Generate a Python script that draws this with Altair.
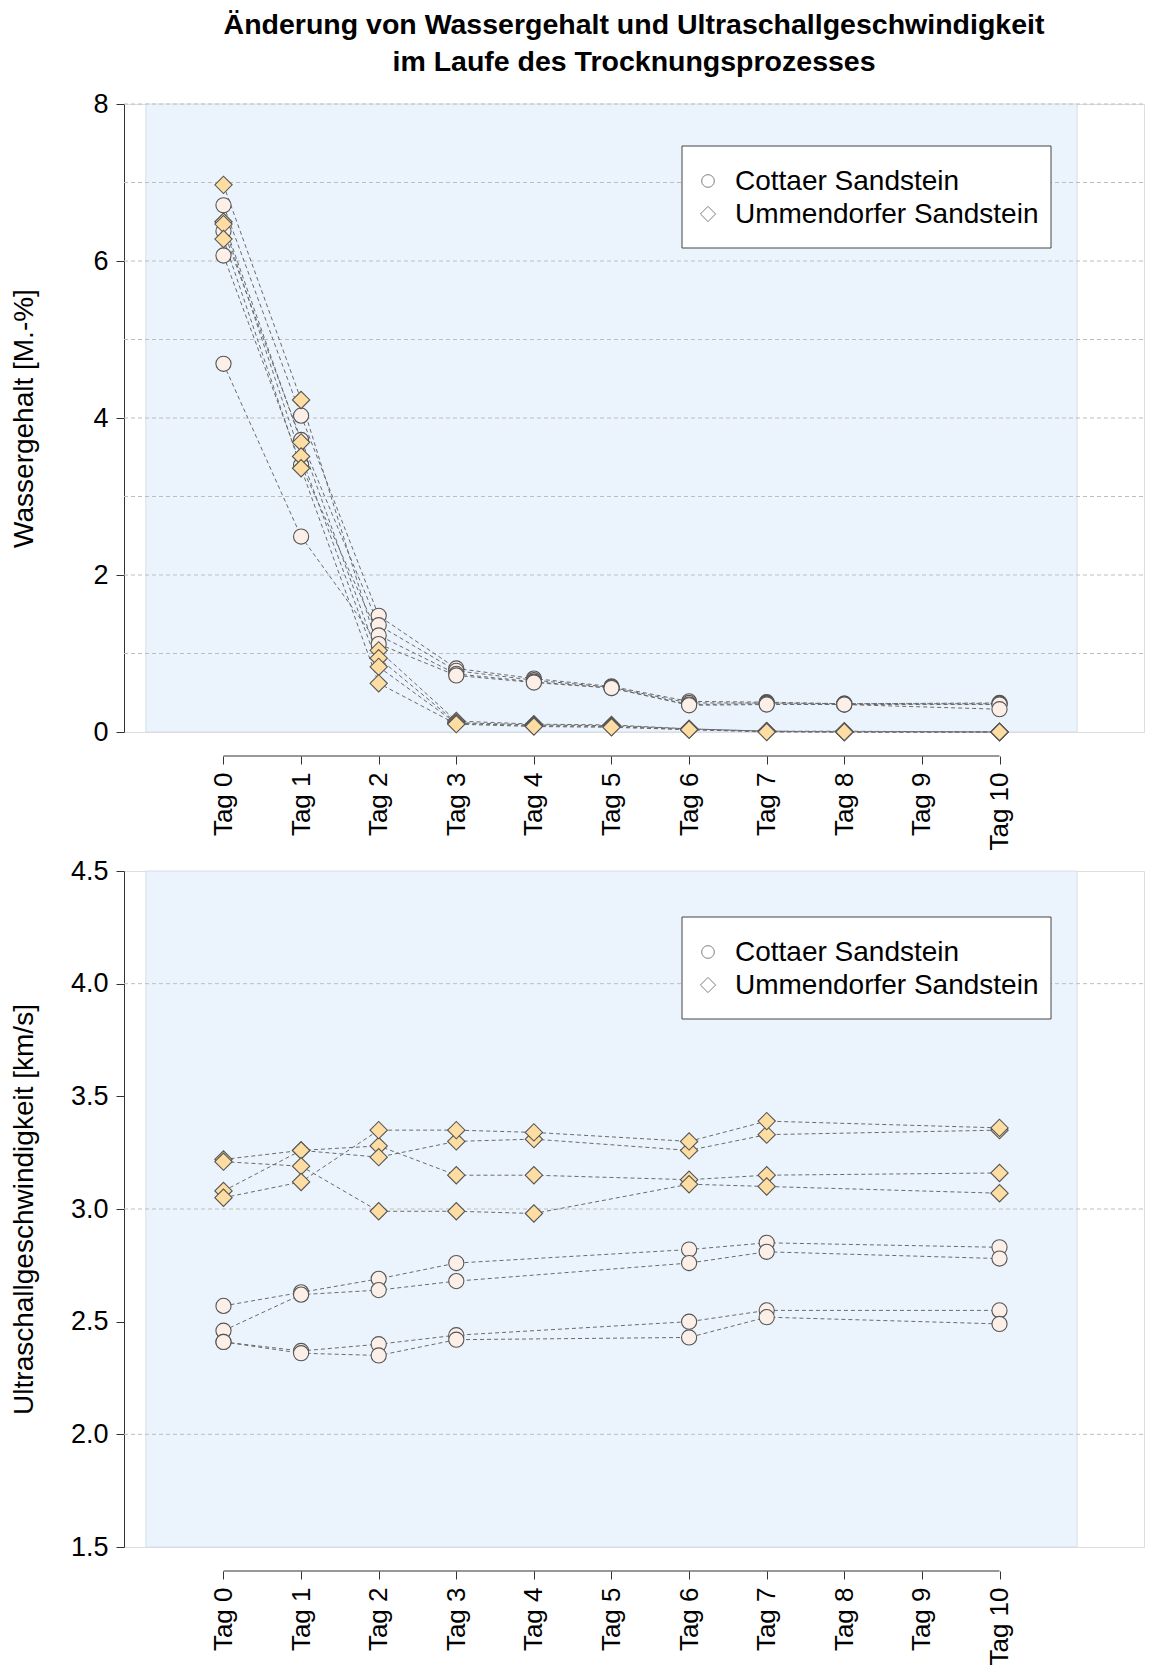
import altair as alt
import pandas as pd

# ---------------- data ----------------
stones = ["Cottaer Sandstein", "Ummendorfer Sandstein"]
stone_shapes = ["circle", "diamond"]

# Water content [M.-%]
wg_days = [0, 1, 2, 3, 4, 5, 6, 7, 8, 10]
wg_cottaer = [
    [6.71, 4.03, 1.48, 0.81, 0.68, 0.58, 0.39, 0.38, 0.36, 0.37],
    [6.38, 3.72, 1.36, 0.78, 0.66, 0.57, 0.37, 0.37, 0.36, 0.36],
    [6.07, 3.40, 1.23, 0.74, 0.64, 0.56, 0.35, 0.36, 0.35, 0.35],
    [4.69, 2.49, 1.12, 0.72, 0.63, 0.56, 0.34, 0.35, 0.35, 0.29],
]
wg_ummendorf = [
    [6.97, 4.23, 1.04, 0.14, 0.10, 0.09, 0.04, 0.01, 0.01, 0.00],
    [6.50, 3.69, 0.94, 0.12, 0.09, 0.08, 0.04, 0.01, 0.00, 0.00],
    [6.47, 3.51, 0.83, 0.11, 0.08, 0.07, 0.03, 0.01, 0.00, 0.00],
    [6.28, 3.36, 0.62, 0.10, 0.07, 0.06, 0.03, 0.00, 0.00, 0.00],
]

# Ultrasonic velocity [km/s]
us_days_cottaer = [0, 1, 2, 3, 6, 7, 10]
us_cottaer = [
    [2.57, 2.63, 2.69, 2.76, 2.82, 2.85, 2.83],
    [2.46, 2.62, 2.64, 2.68, 2.76, 2.81, 2.78],
    [2.41, 2.37, 2.40, 2.44, 2.50, 2.55, 2.55],
    [2.41, 2.36, 2.35, 2.42, 2.43, 2.52, 2.49],
]
us_days_ummendorf = [0, 1, 2, 3, 4, 6, 7, 10]
us_ummendorf = [
    [3.22, 3.26, 3.28, 3.15, 3.15, 3.13, 3.15, 3.16],
    [3.08, 3.26, 3.23, 3.30, 3.31, 3.26, 3.33, 3.35],
    [3.21, 3.19, 2.99, 2.99, 2.98, 3.11, 3.10, 3.07],
    [3.05, 3.12, 3.35, 3.35, 3.34, 3.30, 3.39, 3.36],
]

wg_grid = [1, 2, 3, 4, 5, 6, 7, 8]
us_grid = [2.0, 3.0, 4.0]
wg_ticks = [0, 2, 4, 6, 8]
us_ticks = [1.5, 2.0, 2.5, 3.0, 3.5, 4.0, 4.5]
tag_days = list(range(11))


def long_df(days_c, series_c, days_u, series_u):
    rows = []
    for i, s in enumerate(series_c):
        for d, v in zip(days_c, s):
            rows.append({"series": f"C{i}", "stone": stones[0], "day": d, "value": v})
    for i, s in enumerate(series_u):
        for d, v in zip(days_u, s):
            rows.append({"series": f"U{i}", "stone": stones[1], "day": d, "value": v})
    return pd.DataFrame(rows)


df_wg = long_df(wg_days, wg_cottaer, wg_days, wg_ummendorf)
df_us = long_df(us_days_cottaer, us_cottaer, us_days_ummendorf, us_ummendorf)

# ---------------- style ----------------
W = 1020
H_TOP = 628
H_BOT = 676
FONT = "Liberation Sans"
PANEL = "#ebf4fd"
GRID = "#bdbdbd"
AXC = "#333333"

xscale = alt.Scale(domain=[-1.282, 11.862], nice=False, zero=False)
xaxis = alt.Axis(values=tag_days, labelExpr="'Tag ' + datum.value", labelAngle=270,
                 labelFontSize=26, labelFont=FONT, labelColor="black", labelPadding=8,
                 labelFlush=False, labelOverlap=False, tickSize=8, tickColor=AXC,
                 domain=False, grid=False, offset=24, title=None)


def legend_layers(box_top):
    box_left, box_right = 558, 927
    layers = [
        alt.Chart(pd.DataFrame({"k": [0]})).mark_rect(
            fill="white", stroke="#444444", strokeWidth=1
        ).encode(x=alt.value(box_left), x2=alt.value(box_right),
                 y=alt.value(box_top), y2=alt.value(box_top + 102))
    ]
    for i, (name, shp) in enumerate(zip(stones, stone_shapes)):
        yy = box_top + 35 + 33 * i
        layers.append(
            alt.Chart(pd.DataFrame({"stone": [name]})).mark_point(
                filled=True, fill="white", stroke="#4a4a4a", strokeWidth=1,
                shape=shp, size=160 if shp == "circle" else 230,
            ).encode(x=alt.value(584), y=alt.value(yy))
        )
        layers.append(
            alt.Chart(pd.DataFrame({"stone": [name]})).mark_text(
                align="left", baseline="middle", font=FONT, fontSize=28, color="black"
            ).encode(x=alt.value(611), y=alt.value(yy + 1), text="stone:N")
        )
    return layers


def panel_chart(df, ymin, ymax, yticks, ygrid, yfmt, ytitle, H, legend_top, title=None):
    yscale = alt.Scale(domain=[ymin, ymax], nice=False, zero=False)
    yaxis = alt.Axis(values=yticks, format=yfmt, labelFontSize=27, labelFont=FONT,
                     labelColor="black", labelPadding=8, labelFlush=False, labelOverlap=False,
                     tickSize=8, tickColor=AXC, domainColor=AXC, grid=False,
                     title=ytitle, titleFontSize=28, titleFont=FONT, titleFontWeight="normal",
                     titleColor="black", titleX=-100, titleY=H / 2, titleAngle=270,
                     titleAlign="center", titleBaseline="middle")
    X = lambda f: alt.X(f, scale=xscale, axis=xaxis)
    Y = lambda f: alt.Y(f, scale=yscale, axis=yaxis)

    base = alt.Chart(df)
    panel = alt.Chart(pd.DataFrame({"k": [0]})).mark_rect(
        fill=PANEL, stroke="#d6dde5", strokeWidth=1
    ).encode(
        x=alt.XDatum(-1, scale=xscale, axis=xaxis), x2=alt.X2Datum(11),
        y=alt.YDatum(ymin, scale=yscale, axis=yaxis), y2=alt.Y2Datum(ymax),
    )
    grid = alt.Chart(pd.DataFrame({"g": ygrid})).mark_rule(
        color=GRID, strokeDash=[4, 3], strokeWidth=1
    ).encode(y=Y("g:Q"), x=alt.value(0), x2=alt.value(W))
    xline = alt.Chart(pd.DataFrame({"k": [0]})).mark_rule(color=AXC, strokeWidth=1).encode(
        x=alt.XDatum(0, scale=xscale, axis=xaxis), x2=alt.X2Datum(10), y=alt.value(H + 24)
    )
    lines = base.mark_line(color="#6a6a6a", strokeDash=[4, 3], strokeWidth=1).encode(
        x=X("day:Q"), y=Y("value:Q"), detail="series:N"
    )
    points = base.mark_point(filled=True, stroke="#555555", strokeWidth=1.1, opacity=1).encode(
        x=X("day:Q"), y=Y("value:Q"),
        shape=alt.Shape("stone:N", scale=alt.Scale(domain=stones, range=stone_shapes),
                        legend=None),
        fill=alt.Fill("stone:N", scale=alt.Scale(domain=stones, range=["#fcefe8", "#fedda2"]),
                      legend=None),
        size=alt.Size("stone:N", scale=alt.Scale(domain=stones, range=[230, 300]), legend=None),
        detail="series:N",
    )
    props = dict(width=W, height=H)
    if title is not None:
        props["title"] = title
    return alt.layer(panel, grid, xline, lines, points,
                     *legend_layers(legend_top)).properties(**props)


title = alt.Title(
    text=["Änderung von Wassergehalt und Ultraschallgeschwindigkeit",
          "im Laufe des Trocknungsprozesses"],
    font=FONT, fontSize=28.5, fontWeight="bold",
    color="black", anchor="middle", lineHeight=37, offset=14,
)

top = panel_chart(df_wg, 0, 8, wg_ticks, wg_grid, "d", "Wassergehalt [M.-%]", H_TOP, 42, title)
bottom = panel_chart(df_us, 1.5, 4.5, us_ticks, us_grid, ".1f",
                     "Ultraschallgeschwindigkeit [km/s]", H_BOT, 46)

chart = alt.vconcat(top, bottom, spacing=5,
                    padding={"left": 1, "top": 2, "right": 0, "bottom": 0}
                    ).configure_view(stroke=None).configure(font=FONT)

chart.save("out.html", embed_options={"renderer": "svg", "actions": False})
